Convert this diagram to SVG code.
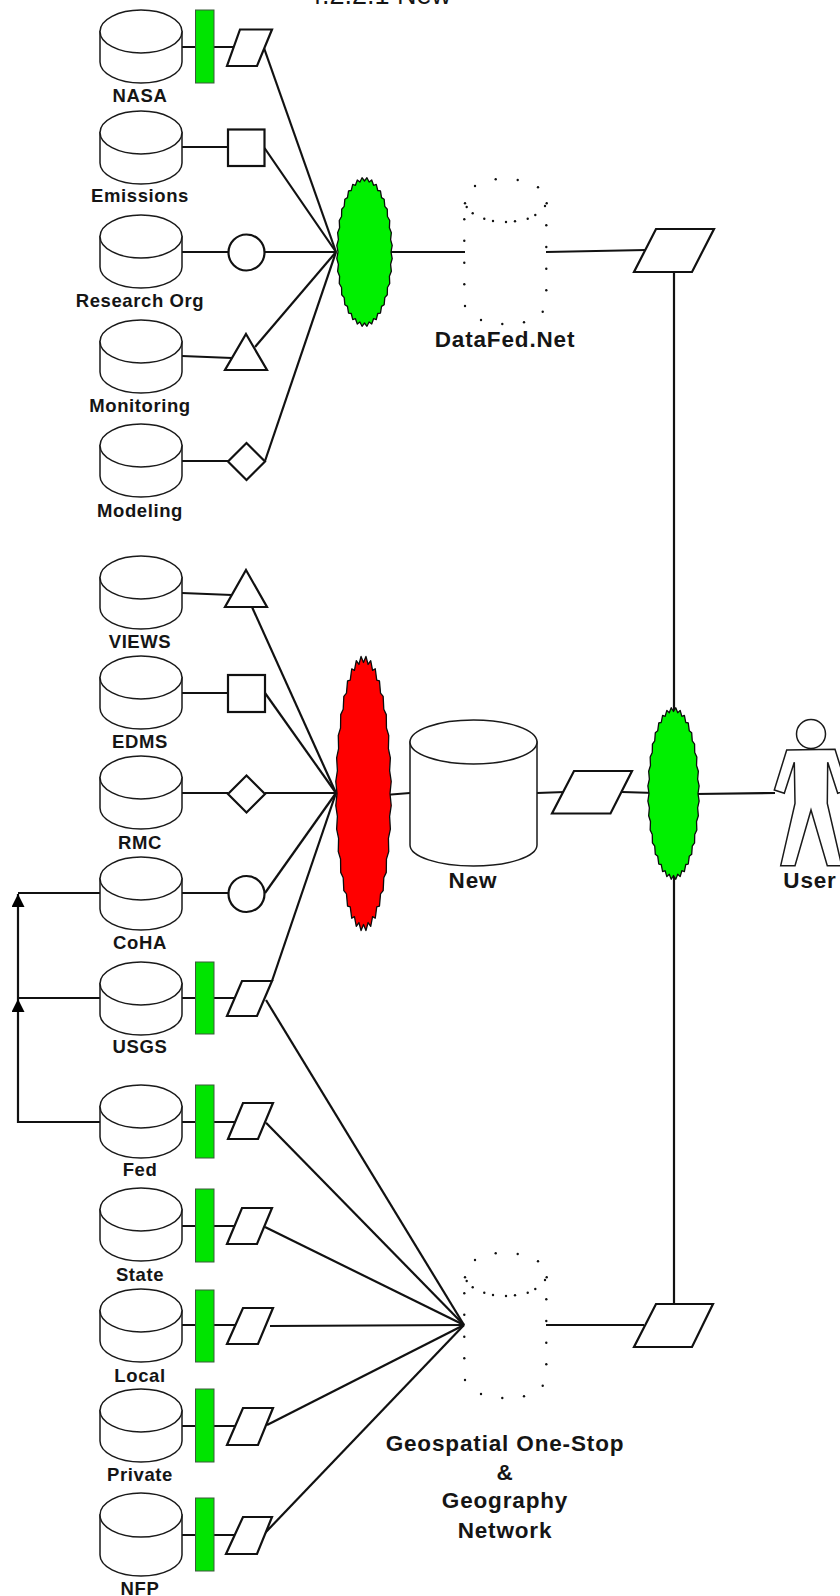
<svg xmlns="http://www.w3.org/2000/svg" width="840" height="1596" viewBox="0 0 840 1596">
<style>
text{font-family:"Liberation Sans",Arial,sans-serif;fill:#151515;text-anchor:middle}
.l{font-weight:bold;font-size:18.5px;letter-spacing:.6px}
.b{font-weight:bold;font-size:22.5px;letter-spacing:.85px}
.t{font-size:27px}
.c{fill:#fff;stroke:#1a1a1a;stroke-width:1.5}
.s{fill:#fff;stroke:#111;stroke-width:2.2;stroke-linejoin:miter}
.bar{fill:#00e400;stroke:#3a5a3a;stroke-width:1}
.k{fill:none;stroke:#111;stroke-width:2.2}
.d{fill:#111;stroke:none}
.hub{stroke:#0b0b0b;stroke-width:1.3;stroke-linejoin:round;vector-effect:non-scaling-stroke}
</style>
<defs>
<g id="cyl"><path class="c" d="M0 21.5V52A41 21 0 0 0 82 52V21.5Z"/><ellipse class="c" cx="41" cy="21.5" rx="41" ry="21.5"/></g>
<marker id="ah" viewBox="0 0 13 13" refX="13" refY="6.5" markerWidth="13" markerHeight="13" markerUnits="userSpaceOnUse" orient="auto"><polygon points="0,0 13,6.5 0,13" fill="#000"/></marker>
<polygon id="blob" class="hub" points="100,0 104.6,9.2 98.5,17.4 101.4,27.2 94,34.2 95.2,44.4 86.6,50 86,60.2 76.6,64.3 74.2,74.2 64.3,76.6 60.2,86 50,86.6 44.4,95.2 34.2,94 27.2,101.4 17.4,98.5 9.2,104.6 0,100 -9.2,104.6 -17.4,98.5 -27.2,101.4 -34.2,94 -44.4,95.2 -50,86.6 -60.2,86 -64.3,76.6 -74.2,74.2 -76.6,64.3 -86,60.2 -86.6,50 -95.2,44.4 -94,34.2 -101.4,27.2 -98.5,17.4 -104.6,9.2 -100,0 -104.6,-9.2 -98.5,-17.4 -101.4,-27.2 -94,-34.2 -95.2,-44.4 -86.6,-50 -86,-60.2 -76.6,-64.3 -74.2,-74.2 -64.3,-76.6 -60.2,-86 -50,-86.6 -44.4,-95.2 -34.2,-94 -27.2,-101.4 -17.4,-98.5 -9.2,-104.6 0,-100 9.2,-104.6 17.4,-98.5 27.2,-101.4 34.2,-94 44.4,-95.2 50,-86.6 60.2,-86 64.3,-76.6 74.2,-74.2 76.6,-64.3 86,-60.2 86.6,-50 95.2,-44.4 94,-34.2 101.4,-27.2 98.5,-17.4 104.6,-9.2"/>
<g id="dots" class="d"><circle cx="475" cy="186" r="1.2"/><circle cx="495.7" cy="179.3" r="1.2"/><circle cx="517.7" cy="180" r="1.2"/><circle cx="538" cy="187.3" r="1.2"/><circle cx="546.7" cy="203.3" r="1.2"/><circle cx="545" cy="206" r="1.2"/><circle cx="465" cy="203.3" r="1.2"/><circle cx="466.7" cy="207" r="1.2"/><circle cx="472.7" cy="213.3" r="1.2"/><circle cx="484.3" cy="218.7" r="1.2"/><circle cx="493" cy="221" r="1.2"/><circle cx="506" cy="222" r="1.2"/><circle cx="515" cy="221.3" r="1.2"/><circle cx="527.7" cy="218.7" r="1.2"/><circle cx="535.3" cy="215" r="1.2"/><circle cx="464.3" cy="219.3" r="1.2"/><circle cx="464.3" cy="240.7" r="1.2"/><circle cx="464.3" cy="262.7" r="1.2"/><circle cx="464.3" cy="284.3" r="1.2"/><circle cx="465" cy="306" r="1.2"/><circle cx="481" cy="320" r="1.2"/><circle cx="502.3" cy="324" r="1.2"/><circle cx="524" cy="322.3" r="1.2"/><circle cx="542.7" cy="311.7" r="1.2"/><circle cx="546.3" cy="290.3" r="1.2"/><circle cx="546.3" cy="268.7" r="1.2"/><circle cx="546.3" cy="247" r="1.2"/><circle cx="546.3" cy="225.3" r="1.2"/></g>
</defs>
<rect width="840" height="1596" fill="#fff"/>
<text class="t" x="379" y="4">4.2.2.1 New</text>
<g id="connectors">
<g class="k">
<path d="M182 47H240"/><path d="M182 147H228"/><path d="M182 252H228"/><path d="M182 356L232 358"/><path d="M182 461H228"/>
<path d="M182 593L232 595"/><path d="M182 693H228"/><path d="M182 793H228"/><path d="M182 893H228"/><path d="M182 998H238"/><path d="M182 1122H238"/><path d="M182 1226H238"/><path d="M182 1325H238"/><path d="M182 1426H238"/><path d="M182 1535H238"/>
<path d="M264 48L336 252"/><path d="M264.5 148L336 252"/><path d="M264.5 252H336"/><path d="M255 347L336 252"/><path d="M265 461L336 252"/>
<path d="M252 607L336 793"/><path d="M265 693L336 793"/><path d="M265 793H336"/><path d="M265 893L336 793"/><path d="M272 981L336 793"/>
<path d="M266 1000L464 1325"/><path d="M266 1122.7L464 1325"/><path d="M265 1227L464 1325"/><path d="M270 1326L464 1325"/><path d="M267 1425L464 1325"/><path d="M265 1533L464 1325"/>
<path d="M385 252H465"/><path d="M546 252L646 250"/><path d="M674 272V720"/><path d="M674 870V1304"/><path d="M546 1325H644"/>
<path d="M385 795L410 793"/><path d="M537 793L565 792"/><path d="M622 792L655 793"/><path d="M695 794L775 793"/>
<path d="M100 893H18"/><path d="M100 998H18V894" marker-end="url(#ah)"/><path d="M100 1122H18V999" marker-end="url(#ah)"/>
</g>
</g>
<g id="nasa"><use href="#cyl" x="100" y="10"/><text class="l" x="140" y="102">NASA</text></g>
<g id="nasa-bar"><rect class="bar" x="195.5" y="10" width="18.5" height="73"/></g>
<g id="nasa-wrapper"><polygon class="s" points="240,29.5 272,29.5 257,66 227,66"/></g>
<g id="emissions"><use href="#cyl" x="100" y="111"/><text class="l" x="140" y="202">Emissions</text></g>
<g id="emissions-wrapper"><rect class="s" x="228" y="129.5" width="36.5" height="36.5"/></g>
<g id="research"><use href="#cyl" x="100" y="215"/><text class="l" x="140" y="307">Research Org</text></g>
<g id="research-wrapper"><circle class="s" cx="246.5" cy="252.5" r="18"/></g>
<g id="monitoring"><use href="#cyl" x="100" y="320"/><text class="l" x="140" y="412">Monitoring</text></g>
<g id="monitoring-wrapper"><polygon class="s" points="246,334 267,370 225,370"/></g>
<g id="modeling"><use href="#cyl" x="100" y="424"/><text class="l" x="140" y="517">Modeling</text></g>
<g id="modeling-wrapper"><polygon class="s" points="246.5,443 265,461.5 246.5,480 228,461.5"/></g>
<g id="views"><use href="#cyl" x="100" y="556"/><text class="l" x="140" y="648">VIEWS</text></g>
<g id="views-wrapper"><polygon class="s" points="246,570 267,607 225,607"/></g>
<g id="edms"><use href="#cyl" x="100" y="656"/><text class="l" x="140" y="748">EDMS</text></g>
<g id="edms-wrapper"><rect class="s" x="228" y="675" width="37" height="37"/></g>
<g id="rmc"><use href="#cyl" x="100" y="756"/><text class="l" x="140" y="849">RMC</text></g>
<g id="rmc-wrapper"><polygon class="s" points="246.5,775.5 265,794 246.5,812.5 228,794"/></g>
<g id="coha"><use href="#cyl" x="100" y="857"/><text class="l" x="140" y="949">CoHA</text></g>
<g id="coha-wrapper"><circle class="s" cx="246.5" cy="894" r="18"/></g>
<g id="usgs"><use href="#cyl" x="100" y="962"/><text class="l" x="140" y="1053">USGS</text></g>
<g id="usgs-bar"><rect class="bar" x="195.5" y="962" width="18.5" height="72"/></g>
<g id="usgs-wrapper"><polygon class="s" points="242,981 272,981 257,1016 227,1016"/></g>
<g id="fed"><use href="#cyl" x="100" y="1085"/><text class="l" x="140" y="1176">Fed</text></g>
<g id="fed-bar"><rect class="bar" x="195.5" y="1085" width="18.5" height="73"/></g>
<g id="fed-wrapper"><polygon class="s" points="243,1103 273,1103 258,1139 228,1139"/></g>
<g id="state"><use href="#cyl" x="100" y="1188"/><text class="l" x="140" y="1281">State</text></g>
<g id="state-bar"><rect class="bar" x="195.5" y="1189" width="18.5" height="73"/></g>
<g id="state-wrapper"><polygon class="s" points="242,1208 272,1208 257,1244 227,1244"/></g>
<g id="local"><use href="#cyl" x="100" y="1289"/><text class="l" x="140" y="1382">Local</text></g>
<g id="local-bar"><rect class="bar" x="195.5" y="1290" width="18.5" height="72"/></g>
<g id="local-wrapper"><polygon class="s" points="243,1308 273,1308 258,1344 227,1344"/></g>
<g id="private"><use href="#cyl" x="100" y="1389"/><text class="l" x="140" y="1481">Private</text></g>
<g id="private-bar"><rect class="bar" x="195.5" y="1389" width="18.5" height="73"/></g>
<g id="private-wrapper"><polygon class="s" points="243,1408 273,1408 258,1445 227,1445"/></g>
<g id="nfp"><path class="c" d="M100 1515V1555A41 21 0 0 0 182 1555V1515Z"/><ellipse class="c" cx="141" cy="1515" rx="41" ry="22"/><text class="l" x="140" y="1595">NFP</text></g>
<g id="nfp-bar"><rect class="bar" x="195.5" y="1498" width="18.5" height="73"/></g>
<g id="nfp-wrapper"><polygon class="s" points="243,1517 272,1517 257,1554 226,1554"/></g>
<g id="hub-datafed"><use href="#blob" fill="#00f000" transform="translate(364.5 252) scale(.265 .71)"/></g>
<g id="hub-new"><use href="#blob" fill="#ff0000" transform="translate(363.5 793.5) scale(.265 1.31)"/></g>
<g id="hub-user"><use href="#blob" fill="#00f000" transform="translate(673.5 793.5) scale(.245 .82)"/></g>
<g id="datafed"><use href="#dots"/><text class="b" x="505" y="347">DataFed.Net</text></g>
<g id="datafed-wrapper"><polygon class="s" points="656,229 714,229 692,272 634,272"/></g>
<g id="new"><path class="c" d="M410 742V845A63.5 21 0 0 0 537 845V742Z"/><ellipse class="c" cx="473.5" cy="742" rx="63.5" ry="22"/><text class="b" x="473" y="888">New</text></g>
<g id="new-wrapper"><polygon class="s" points="574,771 632,771 610.5,813.5 552,813.5"/></g>
<g id="user"><circle class="c" cx="811" cy="734" r="14.5"/><polygon class="c" points="786.7,750 774.3,790 784.3,793.3 794.3,762.3 795,803.3 780.7,865.7 795,865.7 811,810 827.3,865.7 841.7,865.7 827.3,803.3 827.7,762.3 837.7,793.3 847.7,790 835,749.3"/><text class="b" x="810" y="888">User</text></g>
<g id="geospatial"><use href="#dots" y="1074"/><text class="b" x="505" y="1451">Geospatial One-Stop</text><text class="b" x="505" y="1480">&amp;</text><text class="b" x="505" y="1508">Geography</text><text class="b" x="505" y="1538">Network</text></g>
<g id="geospatial-wrapper"><polygon class="s" points="656,1304 713,1304 692,1347 634,1347"/></g>
</svg>
